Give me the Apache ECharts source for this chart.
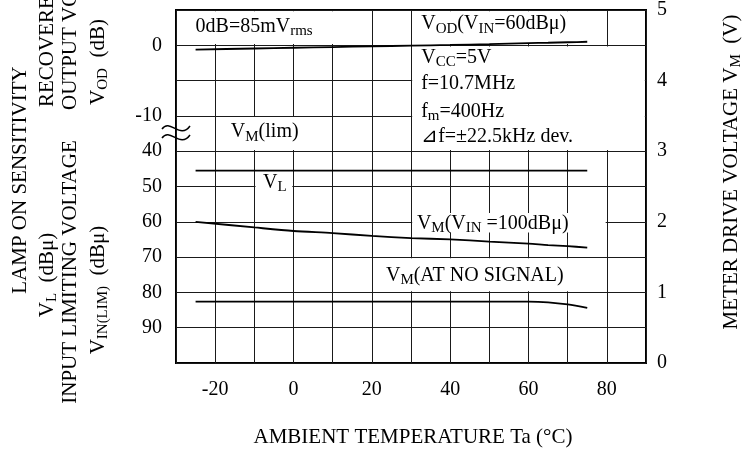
<!DOCTYPE html>
<html><head><meta charset="utf-8">
<script src="https://cdn.jsdelivr.net/npm/echarts@6/dist/echarts.min.js"></script>
<style>html,body{margin:0;padding:0;background:#fff}#c{width:742px;height:452px}</style>
</head><body><div id="c"></div>
<script>
// ---- data ----
const xTickLabels = [-20, 0, 20, 40, 60, 80];
const rightTickLabels = [0, 1, 2, 3, 4, 5];
// left axis tick labels from bottom gridline to top gridline (broken scale)
const leftTickLabels = ['', '90', '80', '70', '60', '50', '40', '-10', '', '0', ''];
const temps   = [-25, -10, 0, 10, 20, 30, 40, 50, 60, 65, 70, 75];
const vodDb   = [-0.6, -0.45, -0.35, -0.25, -0.15, -0.05, 0.05, 0.17, 0.3, 0.36, 0.43, 0.5]; // dB
const vlDbu   = [45.5, 45.5, 45.5, 45.5, 45.5, 45.5, 45.5, 45.5, 45.5, 45.5, 45.5, 45.5]; // dBµ
const vm100   = [2.0, 1.92, 1.87, 1.84, 1.8, 1.77, 1.75, 1.72, 1.69, 1.67, 1.655, 1.635]; // V
const vmNoSig = [0.87, 0.87, 0.87, 0.87, 0.87, 0.87, 0.87, 0.87, 0.87, 0.86, 0.83, 0.78]; // V

// left-axis position helpers (axis is in gridline units; upper part dB, lower part dBµ)
const dbToLeft = v => 9 + v / 5;
const dbuToLeft = v => (100 - v) / 10;

const FONT = "'Liberation Serif', 'Times New Roman', serif";
const chart = echarts.init(document.getElementById('c'), null, {renderer: 'canvas'});

// white boxes (°C, V) hiding gridlines behind annotations
const boxes = [
  [-30, 4.5, 20, 5], [30, 4.5, 80, 5], [30, 3, 90, 4.5], [-20, 3, 10, 3.5],
  [-10, 2.35, 0, 2.65], [30, 1.83, 80, 2.14], [20, 1, 80, 1.5]
];
const ex = 0.3, ey = 0.017;
const areaData = boxes.map(b => [{xAxis: b[0] + ex, yAxis: b[1] + ey}, {xAxis: b[2] - ex, yAxis: b[3] - ey}]);

const lineStyle = {color: '#000', width: 1.8};
const mk = (vals, f) => temps.map((t, i) => [t, f ? f(vals[i]) : vals[i]]);

chart.setOption({
  animation: false,
  backgroundColor: '#fff',
  grid: {left: 176, right: 96, top: 8, bottom: 89, show: true, borderColor: '#000', borderWidth: 2, backgroundColor: 'transparent'},
  xAxis: {
    type: 'value', min: -30, max: 90, interval: 10,
    axisLine: {show: false}, axisTick: {show: false},
    axisLabel: {margin: 17, color: '#000', fontFamily: FONT, fontSize: 20,
      formatter: v => xTickLabels.includes(v) ? String(v) : ''},
    splitLine: {show: true, lineStyle: {color: '#1a1a1a', width: 1}}
  },
  yAxis: [
    {type: 'value', min: 0, max: 10, interval: 1, position: 'left',
      axisLine: {show: false}, axisTick: {show: false}, splitLine: {show: false},
      axisLabel: {margin: 14, color: '#000', fontFamily: FONT, fontSize: 20,
        formatter: v => leftTickLabels[Math.round(v)] || ''}},
    {type: 'value', min: 0, max: 5, interval: 0.5, position: 'right',
      axisLine: {show: false}, axisTick: {show: false},
      splitLine: {show: true, lineStyle: {color: '#1a1a1a', width: 1}},
      axisLabel: {margin: 11, color: '#000', fontFamily: FONT, fontSize: 20,
        formatter: v => rightTickLabels.includes(v) ? String(v) : ''}}
  ],
  series: [
    {name: 'VOD', type: 'line', yAxisIndex: 0, data: mk(vodDb, dbToLeft), showSymbol: false, lineStyle, smooth: 0.2, z: 3},
    {name: 'VL', type: 'line', yAxisIndex: 0, data: mk(vlDbu, dbuToLeft), showSymbol: false, lineStyle, z: 3},
    {name: 'VM100', type: 'line', yAxisIndex: 1, data: mk(vm100), showSymbol: false, lineStyle, smooth: 0.3, z: 3,
      markArea: {silent: true, z: 1, itemStyle: {color: '#fff', borderWidth: 0}, label: {show: false}, data: areaData}},
    {name: 'VMnosig', type: 'line', yAxisIndex: 1, data: mk(vmNoSig), showSymbol: false, lineStyle, smooth: 0.3, z: 3}
  ]
});

const rich = {
  n: {fontSize: 20, fontFamily: FONT, color: '#000'},
  s: {fontSize: 15, fontFamily: FONT, color: '#000', padding: [9, 0, 0, 0]}
};
const richT = {
  n: {fontSize: 21, fontFamily: FONT, color: '#000'},
  s: {fontSize: 15, fontFamily: FONT, color: '#000', padding: [10, 0, 0, 0]}
};
function txt(x, y, text, opt) {
  opt = opt || {};
  return {type: 'text', x, y, rotation: opt.rot || 0, z: 10,
    style: {text, rich: opt.rich || rich, fontFamily: FONT, fontSize: opt.size || 20, fill: '#000',
      align: opt.align || 'left', verticalAlign: 'middle'}};
}
const P = (x, y) => chart.convertToPixel({xAxisIndex: 0, yAxisIndex: 1}, [x, y]);
const notes = [
  [-25, 4.76, '{n|0dB=85mV}{s|rms}'],
  [32.6, 4.8, '{n|V}{s|OD}{n|(V}{s|IN}{n|=60dBμ)}'],
  [32.6, 4.32, '{n|V}{s|CC}{n|=5V}'],
  [32.6, 3.96, '{n|f=10.7MHz}'],
  [32.6, 3.56, '{n|f}{s|m}{n|=400Hz}'],
  [32.6, 3.21, '{n|⊿f=±22.5kHz dev.}'],
  [-16, 3.27, '{n|V}{s|M}{n|(lim)}'],
  [-7.8, 2.56, '{n|V}{s|L}'],
  [31.5, 1.97, '{n|V}{s|M}{n|(V}{s|IN}{n| =100dBμ)}'],
  [23.6, 1.24, '{n|V}{s|M}{n|(AT NO SIGNAL)}']
];
const R = Math.PI / 2;
const graphics = notes.map(n => { const p = P(n[0], n[1]); return txt(p[0], p[1], n[2]); });
graphics.push(
  txt(20, 180, '{n|LAMP ON SENSITIVITY}', {rot: R, align: 'center', rich: richT}),
  txt(47, 107, '{n|RECOVERED}', {rot: R, rich: richT}),
  txt(47, 275, '{n|V}{s|L}{n|  (dBμ)}', {rot: R, align: 'center', rich: richT}),
  txt(70, 110, '{n|OUTPUT VOLTAGE}', {rot: R, rich: richT}),
  txt(70, 272, '{n|INPUT LIMITING VOLTAGE}', {rot: R, align: 'center', rich: richT}),
  txt(98, 62, '{n|V}{s|OD}{n|  (dB)}', {rot: R, align: 'center', rich: richT}),
  txt(98, 290, '{n|V}{s|IN(LIM)}{n|  (dBμ)}', {rot: R, align: 'center', rich: richT}),
  txt(731, 172, '{n|METER DRIVE VOLTAGE V}{s|M}{n|  (V)}', {rot: R, align: 'center', rich: richT}),
  txt(413, 437, '{n|AMBIENT TEMPERATURE Ta (°C)}', {align: 'center', rich: richT}),
  {type: 'bezierCurve', z: 10, shape: {x1: 162, y1: 129, cpx1: 170, cpy1: 118, cpx2: 180, cpy2: 140, x2: 190, y2: 126}, style: {stroke: '#000', lineWidth: 1.5, fill: null}},
  {type: 'bezierCurve', z: 10, shape: {x1: 162, y1: 138, cpx1: 170, cpy1: 127, cpx2: 180, cpy2: 149, x2: 190, y2: 135}, style: {stroke: '#000', lineWidth: 1.5, fill: null}}
);
chart.setOption({graphic: graphics});
</script></body></html>
